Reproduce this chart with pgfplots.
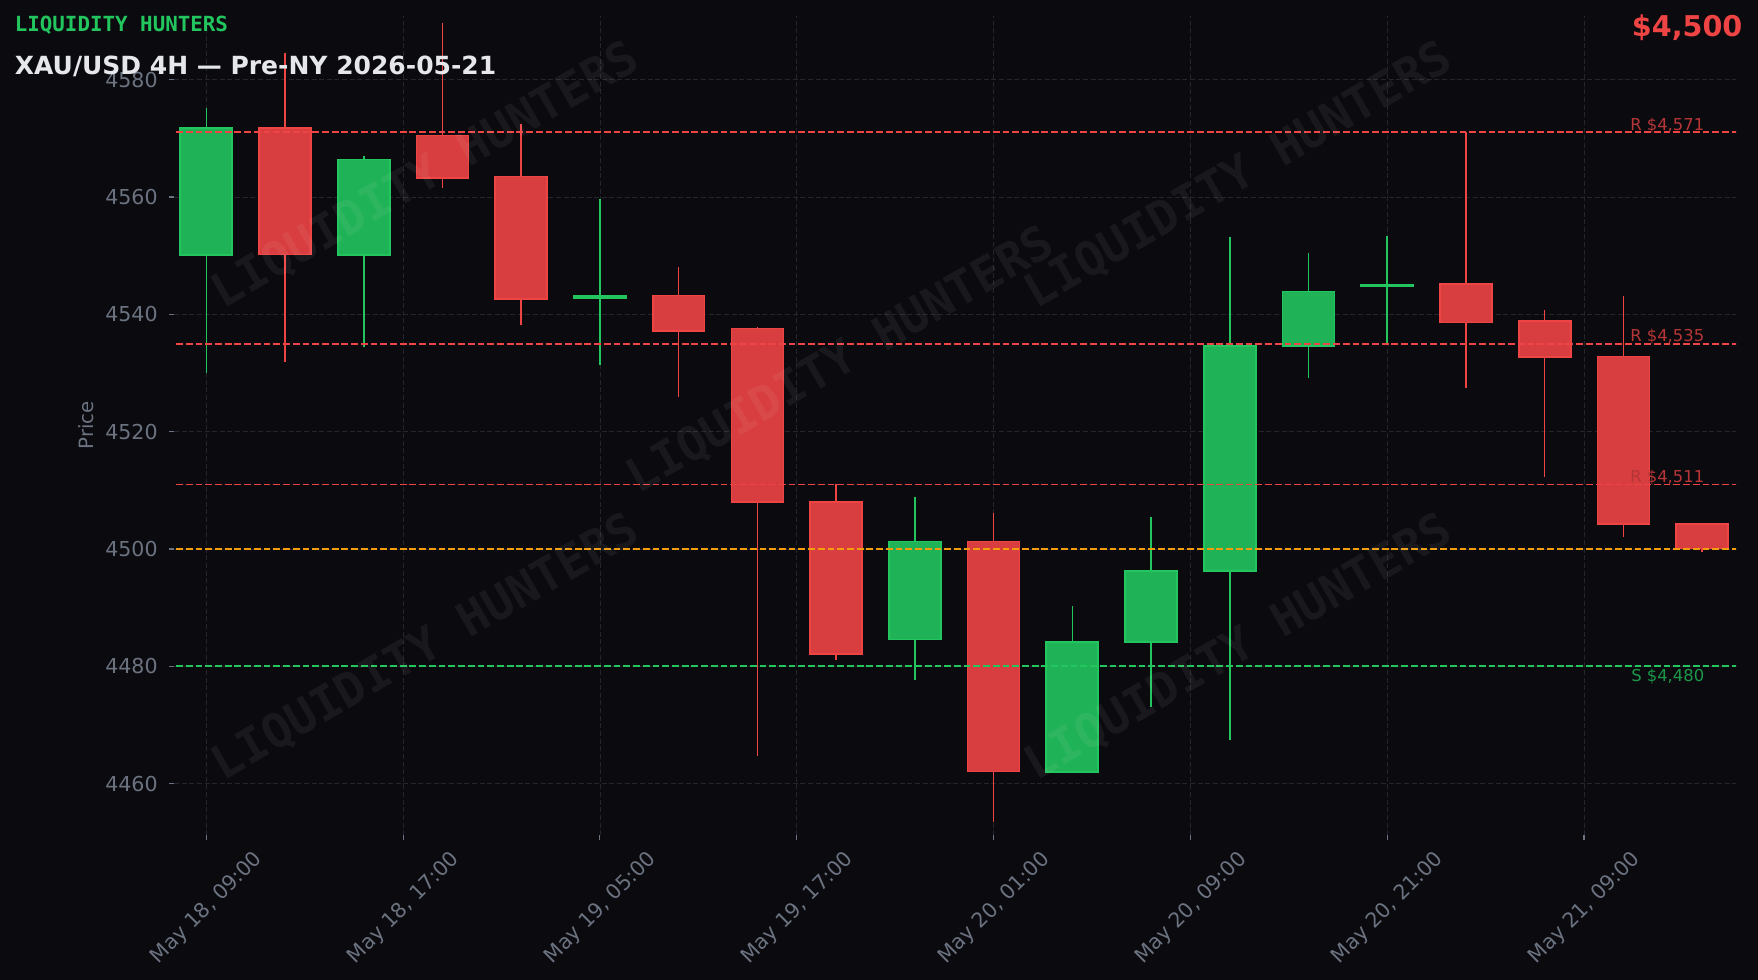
\documentclass[border=0pt]{standalone}
\usepackage{pgfplots}
\pgfplotsset{compat=1.18}
\usepackage{pgfplotstable}
\usepackage{fontspec}
\setmainfont{DejaVu Sans}
\newfontfamily\monofont{DejaVu Sans Mono}

\definecolor{bg}{HTML}{0B0B0F}
\definecolor{gridc}{HTML}{25252D}
\definecolor{tickc}{HTML}{6B7280}
\definecolor{gedge}{HTML}{22C55E}
\definecolor{gfill}{HTML}{20B256}
\definecolor{redge}{HTML}{EF4444}
\definecolor{rfill}{HTML}{D83E3F}
\definecolor{orangec}{HTML}{F59E0B}
\definecolor{rlab}{HTML}{B63637}
\definecolor{glab}{HTML}{1C974A}
\definecolor{titlec}{HTML}{E5E7EB}

% green (bullish) candles: index, open, high, low, close
\pgfplotstableread{
x  o      h      l      c
0  4550.1 4575.2 4530.0 4571.7
2  4550.1 4567.0 4534.5 4566.4
5  4542.8 4559.6 4531.3 4543.1
9  4484.6 4508.9 4477.6 4501.3
11 4462.0 4490.3 4461.8 4484.2
12 4484.1 4505.5 4473.0 4496.3
13 4496.3 4553.2 4467.4 4534.6
14 4534.6 4550.5 4529.2 4543.9
15 4544.8 4553.4 4534.9 4545.1
}\greencandles

% red (bearish) candles
\pgfplotstableread{
x  o      h      l      c
1  4571.7 4584.5 4531.9 4550.2
3  4570.5 4589.6 4561.6 4563.2
4  4563.5 4572.5 4538.2 4542.6
6  4543.2 4548.0 4525.9 4537.2
7  4537.6 4537.8 4464.8 4508.0
8  4508.0 4511.0 4481.1 4482.1
10 4501.3 4506.2 4453.4 4462.1
16 4545.2 4571.1 4527.5 4538.6
17 4538.9 4540.7 4512.2 4532.7
18 4532.8 4543.1 4502.1 4504.3
19 4504.3 4504.4 4499.5 4500.1
}\redcandles

% key levels
\pgfplotstableread{
x  ra   rb   rc   mid  s
-1 4571 4535 4511 4500 4480
20 4571 4535 4511 4500 4480
}\levels

\def\off{4400}

\pgfplotsset{
  candleaxis/.style={
    width=1124.64pt, height=590.11pt, scale only axis,
    xmin=-0.41, xmax=19.43, ymin=51.21, ymax=190.89,
  },
  wick/.style={only marks, mark=*, mark size=0.01pt, color=#1,
    mark options={draw opacity=0, fill opacity=0},
    error bars/.cd, y dir=plus, y explicit, error mark=none,
    error bar style={line width=1.1pt, color=#1, draw opacity=1}},
}

\begin{document}
\begin{tikzpicture}
\fill[bg] (-125.28pt,-104.18pt) rectangle (1140.48pt,601.42pt);

% main axis: grid, ticks, wicks
\begin{axis}[candleaxis,
  axis line style={draw=none},
  tick pos=left, tick align=outside,
  major tick length=3.6pt,
  tick style={color=tickc, line width=0.8pt},
  xtick={0,2.5,5,7.5,10,12.5,15,17.5},
  xticklabels={{May 18, 09:00},{May 18, 17:00},{May 19, 05:00},{May 19, 17:00},{May 20, 01:00},{May 20, 09:00},{May 20, 21:00},{May 21, 09:00}},
  ytick={60,80,100,120,140,160,180},
  yticklabels={4460,4480,4500,4520,4540,4560,4580},
  grid=major,
  major grid style={color=gridc, line width=0.6pt, dash pattern=on 3.6pt off 1.9pt},
  ticklabel style={font=\fontsize{14.8pt}{17pt}\selectfont, color=tickc},
  yticklabel style={anchor=east, inner sep=0pt, xshift=-8pt},
  xticklabel style={inner sep=0pt, anchor=north east, xshift=33.2pt, yshift=-6pt, rotate=45},
  ylabel={Price},
  ylabel style={at={(axis description cs:-0.0563,0.5)}, anchor=center, font=\fontsize{14.2pt}{17pt}\selectfont, color=tickc},
]
\addplot[wick=gedge]
  table[x=x, y expr=\thisrow{l}-\off, y error expr=\thisrow{h}-\thisrow{l}] {\greencandles};
\addplot[wick=redge]
  table[x=x, y expr=\thisrow{l}-\off, y error expr=\thisrow{h}-\thisrow{l}] {\redcandles};
\end{axis}

% green bodies
\begin{axis}[candleaxis, hide axis, ybar stacked, bar width=0.66]
\addplot[draw=none, fill=none] table[x=x, y expr={min(\thisrow{o},\thisrow{c})-\off}] {\greencandles};
\addplot[fill=gfill, draw=gedge, line width=1.2pt] table[x=x, y expr={abs(\thisrow{c}-\thisrow{o})}] {\greencandles};
\end{axis}

% red bodies
\begin{axis}[candleaxis, hide axis, ybar stacked, bar width=0.66]
\addplot[draw=none, fill=none] table[x=x, y expr={min(\thisrow{o},\thisrow{c})-\off}] {\redcandles};
\addplot[fill=rfill, draw=redge, line width=1.2pt] table[x=x, y expr={abs(\thisrow{c}-\thisrow{o})}] {\redcandles};
\end{axis}

% levels
\begin{axis}[candleaxis, hide axis]
\addplot[redge, line width=1.32pt, dash pattern=on 4.9pt off 2.1pt] table[x=x, y expr=\thisrow{ra}-\off] {\levels};
\addplot[redge, line width=1.32pt, dash pattern=on 4.9pt off 2.1pt] table[x=x, y expr=\thisrow{rb}-\off] {\levels};
\addplot[redge, line width=1.32pt, dash pattern=on 4.9pt off 2.1pt] table[x=x, y expr=\thisrow{rc}-\off] {\levels};
\addplot[orangec, line width=1.32pt, dash pattern=on 4.9pt off 2.1pt] table[x=x, y expr=\thisrow{mid}-\off] {\levels};
\addplot[gedge, line width=1.32pt, dash pattern=on 4.9pt off 2.1pt] table[x=x, y expr=\thisrow{s}-\off] {\levels};
\node[anchor=base east, inner sep=0pt, text=rlab, font=\fontsize{11.8pt}{14pt}\selectfont] at (axis cs:19.03,171.35) {R \$4,571};
\node[anchor=base east, inner sep=0pt, text=rlab, font=\fontsize{11.8pt}{14pt}\selectfont] at (axis cs:19.03,135.35) {R \$4,535};
\node[anchor=base east, inner sep=0pt, text=rlab, font=\fontsize{11.8pt}{14pt}\selectfont] at (axis cs:19.03,111.35) {R \$4,511};
\node[anchor=base east, inner sep=0pt, text=glab, font=\fontsize{11.8pt}{14pt}\selectfont] at (axis cs:19.03,77.47) {S \$4,480};
\end{axis}

% watermark
\foreach \p in {(181.4pt,474.7pt),(181.4pt,134.9pt),(480.2pt,341.5pt),(766.8pt,474.7pt),(766.8pt,134.9pt)}
  \node[rotate=30, text=white, text opacity=0.06, font=\monofont\bfseries\fontsize{34pt}{40pt}\selectfont] at \p {LIQUIDITY HUNTERS};

% titles
\node[anchor=base west, inner sep=0pt, text=gedge, font=\monofont\bfseries\fontsize{15pt}{18pt}\selectfont] at (-114.8pt,578.6pt) {LIQUIDITY HUNTERS};
\node[anchor=base west, inner sep=0pt, text=titlec, font=\bfseries\fontsize{18pt}{21pt}\selectfont] at (-114.8pt,548.1pt) {XAU/USD 4H — Pre-NY 2026-05-21};
\node[anchor=base east, inner sep=0pt, text=redge, font=\bfseries\fontsize{20.6pt}{24pt}\selectfont] at (1129.4pt,574.8pt) {\$4,500};

\pgfresetboundingbox
\path[use as bounding box] (-125.28pt,-104.18pt) rectangle (1140.48pt,601.42pt);
\end{tikzpicture}
\end{document}
